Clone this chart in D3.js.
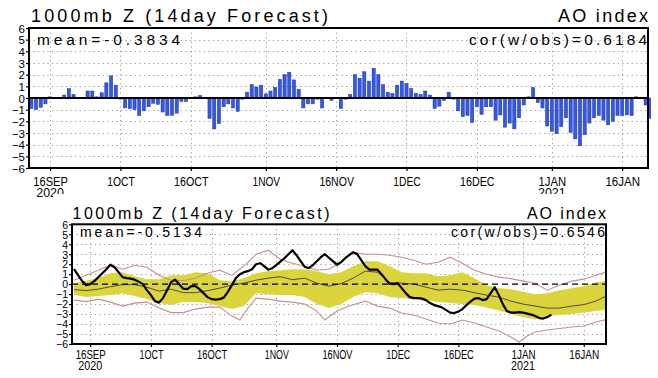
<!DOCTYPE html>
<html><head><meta charset="utf-8">
<script src="https://cdn.jsdelivr.net/npm/d3@7"></script>
<style>body{margin:0;background:#fff}svg{display:block}text{font-family:"Liberation Sans",Arial,sans-serif;fill:#000}</style>
</head><body><svg id="c" width="658" height="378"></svg>
<script>
// ---------- DATA ----------
// daily forecast AO index (top panel), from 12 Sep 2020
const barValues = [-0.9,-1.0,-0.8,-0.5,0.1,0.0,0.0,0.25,0.8,0.3,
 0.05,0.05,0.6,0.6,0.1,0.45,1.3,1.9,1.1,-0.1,
 -0.85,-0.9,-1.0,-1.5,-1.1,-0.75,-0.45,-0.55,-1.2,-1.5,
 -1.5,-1.3,-0.3,-0.3,0.0,0.1,0.2,0.0,-1.75,-2.65,
 -2.2,-0.75,-0.5,-0.85,-1.15,-0.1,0.5,1.15,0.95,1.1,
 0.35,0.6,0.9,1.6,2.0,2.2,1.55,0.75,-0.85,-0.5,
 -0.5,-0.1,-0.85,0.0,-0.2,0.0,-0.9,-0.1,0.3,2.0,
 1.7,2.25,1.45,2.55,2.0,1.15,0.5,0.4,1.1,1.45,
 1.25,0.8,0.4,0.3,0.6,0.25,-0.9,-0.7,-0.2,0.5,
 -0.1,-1.1,-1.6,-1.5,-2.1,-0.75,-1.4,-0.75,-0.75,-1.9,
 -1.45,-2.5,-2.15,-2.65,-1.7,-0.6,0.1,0.9,-0.4,-0.85,
 -2.4,-2.85,-3.05,-2.45,-1.7,-2.95,-3.5,-4.1,-3.15,-2.15,
 -1.7,-1.5,-1.9,-2.3,-2.0,-1.5,-1.5,-1.45,-1.5,0.1,
 0.0,-0.6,-1.75];
// observed AO (bottom panel, black), daily from 12 Sep 2020
const obsValues = [1.5,0.9,0.3,-0.1,0.0,0.3,0.7,1.1,1.5,1.95,
 1.7,1.2,0.7,0.6,0.55,0.45,0.25,0.0,-0.6,-1.1,
 -1.7,-1.85,-1.4,-0.6,0.2,0.45,0.0,-0.45,-0.5,-0.2,
 -0.2,-0.5,-0.9,-1.3,-1.5,-1.55,-1.5,-1.35,-0.8,-0.1,
 0.6,1.0,1.2,1.3,1.5,2.0,2.1,1.8,1.45,1.6,
 1.9,2.25,2.6,3.0,3.4,2.9,2.3,1.75,1.6,1.9,
 2.3,2.7,3.0,2.65,2.3,1.95,2.2,2.6,2.9,3.2,
 3.0,2.4,1.8,1.45,1.45,1.45,1.0,0.5,0.05,0.0,
 0.1,-0.4,-0.9,-1.3,-1.4,-1.4,-1.45,-1.6,-1.9,-2.1,
 -2.2,-2.35,-2.6,-2.85,-2.9,-2.75,-2.5,-2.1,-1.75,-1.45,
 -1.4,-1.6,-1.5,-0.9,-0.3,-1.1,-2.0,-2.7,-2.85,-2.85,
 -2.8,-2.85,-2.95,-3.05,-3.2,-3.4,-3.45,-3.3,-3.05];
// ensemble statistics, day offsets from 12 Sep 2020
const envDays = [0,3,6,9,12,15,18,21,24,27,30,33,36,39,42,45,48,51,54,57,60,63,66,69,72,75,78,81,84,87,90,93,96,99,102,105,108,111,114,117,120,123,126,129,132];
const ensMean = [-0.55,-0.65,-0.5,-0.25,-0.05,-0.05,-0.3,-0.7,-0.5,-0.85,-0.85,-0.65,-0.4,-0.1,0.1,0.4,0.6,0.75,0.45,0.6,0.1,-0.2,0.05,0.6,1.3,1.2,0.15,0.1,0.0,-0.3,-0.6,-0.5,-0.6,-0.85,-1.1,-1.3,-1.7,-2.0,-2.2,-2.4,-2.4,-2.2,-2.05,-1.7,-1.1];
const bandHi = [0.1,0.35,0.6,1.1,1.2,0.8,0.5,0.5,0.9,0.9,1.2,1.1,0.4,0.3,0.6,1.1,1.3,1.4,1.5,1.5,1.3,1.0,1.2,1.8,2.3,2.3,1.8,1.2,1.1,1.1,0.8,0.9,1.2,0.6,-0.1,-0.4,-0.5,-0.75,-1.0,-0.9,-0.6,-0.4,-0.2,0.2,0.35];
const bandLo = [-1.1,-1.3,-1.2,-1.1,-0.9,-1.2,-1.5,-1.9,-2.1,-1.8,-1.8,-1.9,-2.2,-2.5,-2.2,-0.9,-1.0,-1.1,-1.1,-1.3,-2.0,-2.4,-2.0,-1.3,-0.8,-0.9,-1.3,-1.4,-1.5,-1.6,-1.8,-1.9,-2.0,-2.1,-2.35,-2.65,-3.0,-3.3,-3.55,-3.2,-3.1,-3.0,-2.85,-2.7,-2.55];
const maxValues = [0.4,0.9,1.4,1.9,1.5,1.9,1.7,0.9,0.4,0.35,0.6,1.1,1.4,0.9,1.8,3.0,3.4,2.5,2.1,1.8,1.4,1.5,2.2,3.2,3.0,3.0,2.9,2.7,2.4,2.0,2.2,2.7,2.1,1.4,1.0,0.7,0.55,0.3,0.1,-0.6,-0.1,0.3,0.5,0.9,1.3];
const minDays = [0,3,6,9,12,15,18,21,24,27,30,33,36,39,41,43,45,48,51,54,57,60,62,65,68,72,75,78,81,84,87,90,93,96,99,102,105,108,110,112,114,117,120,123,126,129,132];
const minValues = [-1.6,-1.75,-1.5,-1.8,-2.2,-1.9,-1.8,-2.4,-2.85,-2.85,-2.5,-2.3,-2.3,-3.2,-3.6,-2.4,-1.4,-1.5,-1.7,-1.8,-2.0,-2.7,-3.6,-2.7,-2.2,-1.7,-2.2,-2.4,-2.9,-3.1,-3.5,-3.9,-4.0,-3.6,-3.9,-4.3,-4.7,-5.3,-5.8,-5.2,-4.8,-4.6,-4.45,-4.3,-4.2,-3.8,-3.5];
const tickDates = ["2020-09-16","2020-10-01","2020-10-16","2020-11-01","2020-11-16","2020-12-01","2020-12-16","2021-01-01","2021-01-16"];
const tickLabels = ["16SEP","1OCT","16OCT","1NOV","16NOV","1DEC","16DEC","1JAN","16JAN"];
const yearLabels = [{date:"2020-09-16",text:"2020"},{date:"2021-01-01",text:"2021"}];
const yTicks = [6,5,4,3,2,1,0,-1,-2,-3,-4,-5,-6];
const titleText = "1000mb Z (14day Forecast)";
const indexText = "AO index";
const topStats = ["mean=-0.3834","cor(w/obs)=0.6184"];
const botStats = ["mean=-0.5134","cor(w/obs)=0.6546"];

// ---------- DRAW ----------
const svg = d3.select("#c");
svg.append("rect").attr("width",658).attr("height",378).attr("fill","#fff");
const day0 = Date.UTC(2020,8,12);
const dayDate = d => new Date(day0 + d*86400000);
const parse = d3.utcParse("%Y-%m-%d");
const domain = [new Date(Date.UTC(2020,8,11,12)), new Date(Date.UTC(2021,0,21,12))];

function txt(g,x,y,s,size,anchor,len,adj){
  const t=g.append("text").attr("x",x).attr("y",y).attr("font-size",size)
   .attr("text-anchor",anchor||"start").text(s);
  if(len) t.attr("textLength",len).attr("lengthAdjust",adj||"spacingAndGlyphs");
  return t;
}

function panel(c){
  const g = svg.append("g");
  if(c.cover) g.append("rect").attr("x",c.cover[0]).attr("y",c.cover[1]).attr("width",658-c.cover[0]).attr("height",378-c.cover[1]).attr("fill","#fff");
  const x = d3.scaleUtc().domain(domain).range([c.L,c.R]);
  const y = d3.scaleLinear().domain([-6,6]).range([c.B,c.T]);
  const id = "clip"+c.name;
  svg.append("clipPath").attr("id",id).append("rect").attr("x",c.L).attr("y",c.T).attr("width",c.R-c.L+c.extra).attr("height",c.B-c.T);
  // grid
  const grid = g.append("g").attr("stroke","#9a9a9a").attr("stroke-width",1).attr("stroke-dasharray","1.2,3.4");
  yTicks.filter(v=>v!==0 && Math.abs(v)<6).forEach(v=>grid.append("line").attr("x1",c.L).attr("x2",c.R).attr("y1",Math.round(y(v))+0.5).attr("y2",Math.round(y(v))+0.5));
  tickDates.forEach(s=>{const xx=Math.round(x(parse(s)))+0.5;grid.append("line").attr("x1",xx).attr("x2",xx).attr("y1",c.T).attr("y2",c.B);});
  const pg = g.append("g").attr("clip-path",`url(#${id})`);
  c.draw(pg,x,y);
  // frame
  g.append("rect").attr("x",c.L).attr("y",c.T).attr("width",c.R-c.L).attr("height",c.B-c.T).attr("fill","none").attr("stroke","#000").attr("stroke-width",2);
  // y axis
  const ya = g.append("g").attr("transform",`translate(${c.L},0)`)
    .call(d3.axisLeft(y).tickValues(yTicks).tickSize(3).tickPadding(1).tickFormat(d=>d3.format("d")(d)));
  ya.select(".domain").remove();
  ya.selectAll(".tick line").attr("stroke","#000").attr("stroke-width",1.2);
  ya.selectAll(".tick text").attr("font-size",c.yfs).attr("font-family",'"Liberation Sans",Arial,sans-serif').attr("fill","#000").attr("dy","0.36em");
  // x axis
  const xa = g.append("g").attr("transform",`translate(0,${c.B})`)
    .call(d3.axisBottom(x).tickValues(tickDates.map(parse)).tickSize(3).tickFormat((d,i)=>tickLabels[i]));
  xa.select(".domain").remove();
  xa.selectAll(".tick line").attr("stroke","#000").attr("stroke-width",1.2);
  xa.selectAll(".tick text").attr("font-size",c.xfs).attr("font-family",'"Liberation Sans",Arial,sans-serif').attr("fill","#000")
    .attr("y",c.xly).attr("dy",0).attr("textLength",(d,i)=>tickLabels[i].length*c.xcw).attr("lengthAdjust","spacingAndGlyphs");
  yearLabels.forEach(o=>txt(g,x(parse(o.date)),c.B+c.yly,o.text,c.xfs,"middle",o.text.length*c.xcw));
  // titles
  txt(g,c.titleX,c.titleY,titleText,c.tfs,"start",c.titleLen,"spacing");
  txt(g,c.R,c.titleY,indexText,c.tfs,"end",c.idxLen,"spacing");
  txt(g,c.meanX,c.statY,c.stats[0],c.sfs,"start",c.meanLen,"spacing");
  txt(g,c.R-1,c.statY,c.stats[1],c.sfs,"end",c.corLen,"spacing");
}

panel({name:"top",L:29,R:648,T:28,B:168,extra:3,yfs:11.5,xfs:13,xcw:6.9,xly:17.5,yly:29,
  tfs:18,titleX:31,titleY:22,titleLen:297,idxLen:90,sfs:15.5,statY:44.5,meanX:37,meanLen:143,corLen:178,stats:topStats,
  draw:(g,x,y)=>{
    g.selectAll("rect.bar").data(barValues).join("rect").attr("class","bar")
      .attr("x",(v,i)=>x(dayDate(i))-1.6).attr("width",3.2)
      .attr("y",v=>y(Math.max(0,v))).attr("height",v=>Math.abs(y(v)-y(0)))
      .attr("fill","#3558e2").attr("stroke","#1c34a8").attr("stroke-width",0.5);
    g.append("line").attr("x1",x.range()[0]).attr("x2",x.range()[1]).attr("y1",y(0)).attr("y2",y(0)).attr("stroke","#000").attr("stroke-width",2);
  }});

panel({name:"bot",L:72,R:606,T:224.3,B:344,extra:0,yfs:10.5,xfs:12,xcw:6.0,xly:15,yly:26,cover:[53,194],
  tfs:16,titleX:72.5,titleY:219,titleLen:257,idxLen:79,sfs:14,statY:237,meanX:80,meanLen:122,corLen:154,stats:botStats,
  draw:(g,x,y)=>{
    const band = envDays.map((d,i)=>({d,hi:bandHi[i],lo:bandLo[i]}));
    g.append("path").datum(band).attr("fill","#dcd43c")
      .attr("d",d3.area().x(o=>x(dayDate(o.d))).y0(o=>y(o.lo)).y1(o=>y(o.hi)));
    const line = (days,vals)=>d3.line().x((v,i)=>x(dayDate(days[i]))).y(v=>y(v))(vals);
    g.append("path").attr("d",line(envDays,maxValues)).attr("fill","none").attr("stroke","#c98f8f").attr("stroke-width",1.1);
    g.append("path").attr("d",line(minDays,minValues)).attr("fill","none").attr("stroke","#c98f8f").attr("stroke-width",1.1);
    g.append("path").attr("d",line(envDays,ensMean)).attr("fill","none").attr("stroke","#4d4d40").attr("stroke-width",1);
    g.append("line").attr("x1",x.range()[0]).attr("x2",x.range()[1]).attr("y1",y(0)).attr("y2",y(0)).attr("stroke","#000").attr("stroke-width",1.3).attr("stroke-dasharray","6,4");
    g.append("path").attr("d",line(obsValues.map((v,i)=>i),obsValues)).attr("fill","none").attr("stroke","#000").attr("stroke-width",2.2).attr("stroke-linejoin","round");
  }});
</script></body></html>
